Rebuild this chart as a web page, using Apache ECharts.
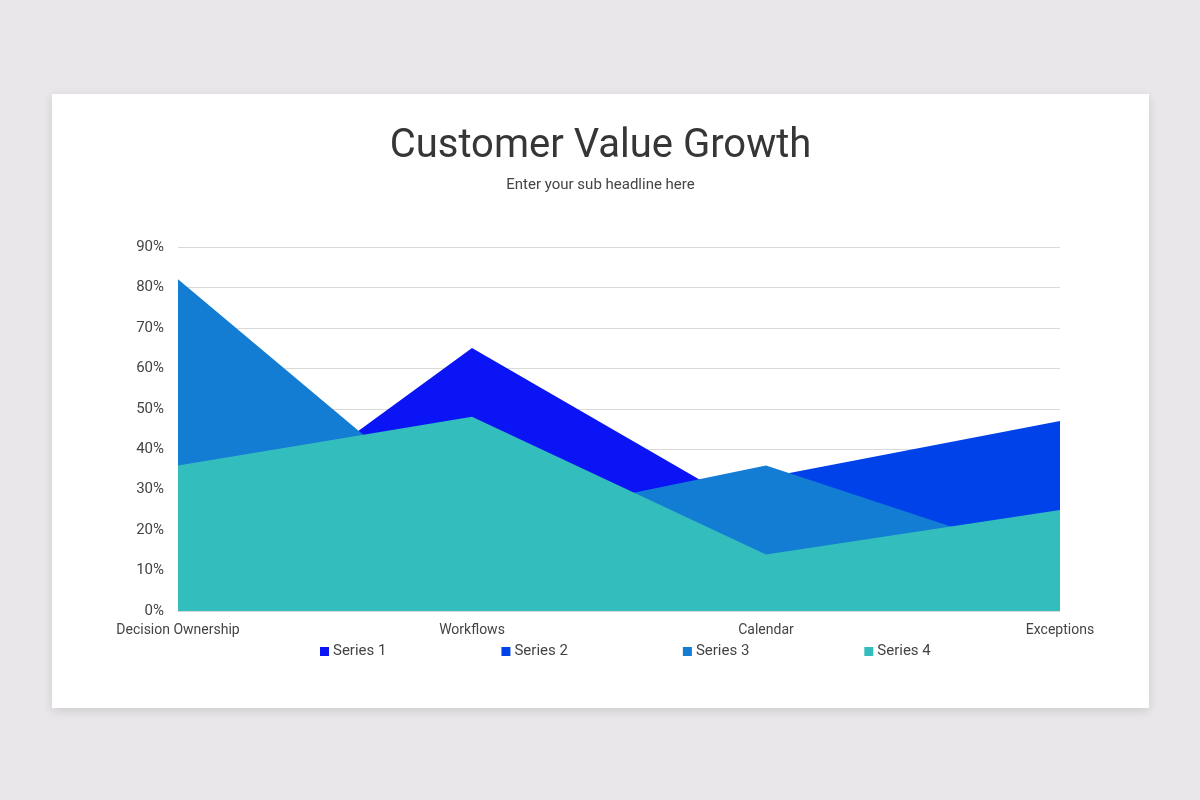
<!DOCTYPE html>
<html lang="en">
<head>
    <meta charset="utf-8">
    <title>Customer Value Growth</title>
    <script src="https://cdn.jsdelivr.net/npm/echarts@6/dist/echarts.min.js"></script>
    <style>
        html, body {
            margin: 0;
            padding: 0;
            width: 1200px;
            height: 800px;
            background: #e9e7e9;
            overflow: hidden;
        }

        .card {
            position: absolute;
            left: 52px;
            top: 94px;
            width: 1097px;
            height: 614px;
            background: #ffffff;
            box-shadow: 0 3px 10px rgba(0, 0, 0, 0.12);
        }

        #chart {
            width: 100%;
            height: 100%;
        }
    </style>
</head>
<body>
<div class="card">
    <div id="chart"></div>
</div>

<script type="text/javascript">
    // chart data
    var categories = ['Decision Ownership', 'Workflows', 'Calendar', 'Exceptions'];
    var seriesNames = ['Series 1', 'Series 2', 'Series 3', 'Series 4'];
    var series1 = [12, 65, 23, 30];
    var series2 = [30, 24, 33, 47];
    var series3 = [82, 21, 36, 12];
    var series4 = [36, 48, 14, 25];
    var yTicks = [0, 10, 20, 30, 40, 50, 60, 70, 80, 90];

    var colors = ['#0a14f5', '#0042ea', '#137dd4', '#33bdbd'];
    var allValues = [series1, series2, series3, series4];

    var myChart = echarts.init(document.getElementById('chart'));

    var series = seriesNames.map(function (name, i) {
        return {
            name: name,
            type: 'line',
            data: allValues[i],
            symbol: 'none',
            lineStyle: {width: 0},
            areaStyle: {color: colors[i], opacity: 1},
            itemStyle: {color: colors[i]},
            z: i + 2
        };
    });

    var option = {
        animation: false,
        textStyle: {fontFamily: 'Roboto'},
        title: {
            text: 'Customer Value Growth',
            subtext: 'Enter your sub headline here',
            left: 'center',
            top: 28,
            itemGap: 11,
            textStyle: {
                fontFamily: 'Roboto',
                fontSize: 40,
                fontWeight: 'normal',
                color: '#363636'
            },
            subtextStyle: {
                fontFamily: 'Roboto',
                fontSize: 15,
                color: '#444444'
            }
        },
        legend: {
            bottom: 44,
            left: 263,
            itemWidth: 9,
            itemHeight: 9,
            itemGap: 115,
            icon: 'rect',
            textStyle: {
                fontFamily: 'Roboto',
                fontSize: 15,
                color: '#444444',
                padding: [0, 0, 0, -1]
            },
            data: seriesNames
        },
        grid: {
            left: 126,
            right: 89,
            top: 153,
            bottom: 97,
            containLabel: false
        },
        xAxis: {
            type: 'category',
            data: categories,
            boundaryGap: false,
            axisLine: {show: false},
            axisTick: {show: false},
            axisLabel: {
                fontFamily: 'Roboto',
                fontSize: 14,
                color: '#444444',
                margin: 12
            }
        },
        yAxis: {
            type: 'value',
            min: yTicks[0],
            max: yTicks[yTicks.length - 1],
            interval: 10,
            axisLine: {show: false},
            axisTick: {show: false},
            splitLine: {lineStyle: {color: '#d9d9d9', width: 1}},
            axisLabel: {
                fontFamily: 'Roboto',
                fontSize: 15,
                color: '#444444',
                margin: 14,
                formatter: '{value}%'
            }
        },
        series: series
    };

    myChart.setOption(option);
</script>
</body>
</html>
